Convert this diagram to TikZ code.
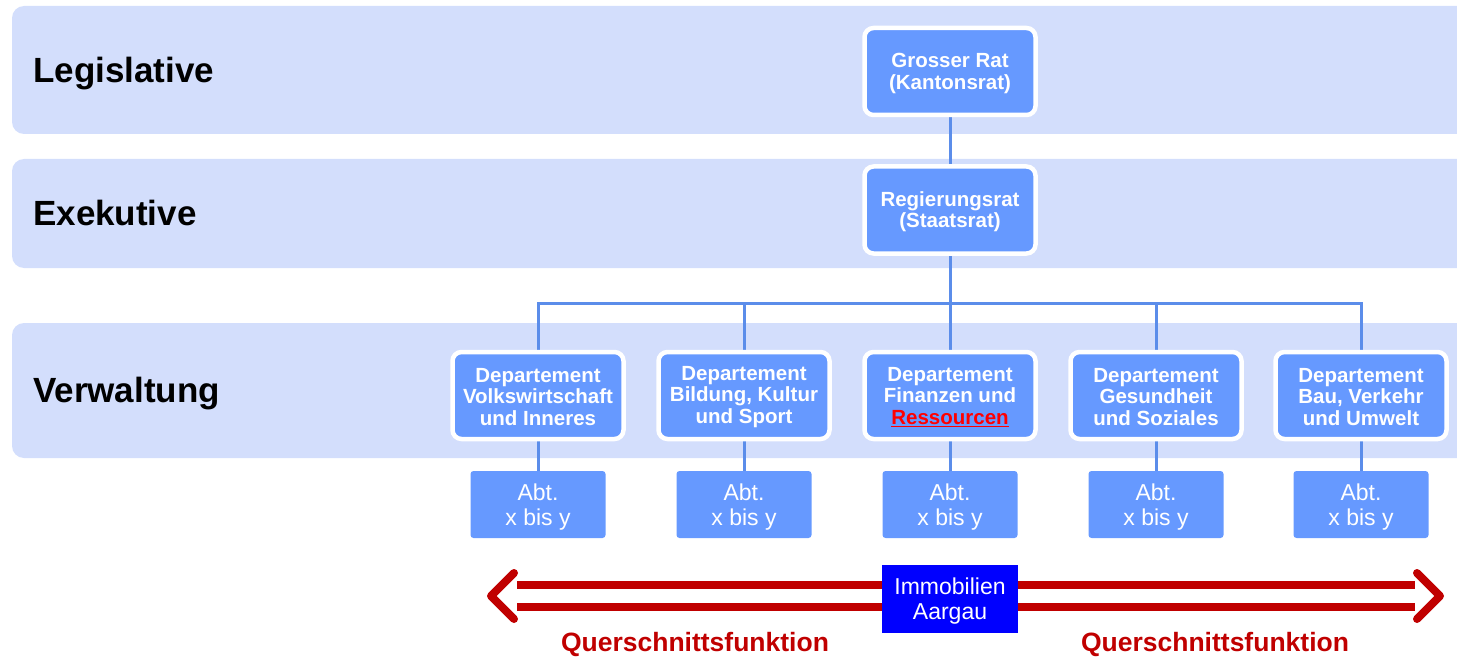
\documentclass[tikz,border=0pt]{standalone}
\usepackage{fontspec}
\setmainfont{Liberation Sans}
\definecolor{band}{HTML}{D3DEFC}
\definecolor{boxblue}{HTML}{6699FF}
\definecolor{linecol}{HTML}{5B8DEA}
\definecolor{darkred}{HTML}{C00000}
\definecolor{immo}{HTML}{0000FF}
\pgfdeclarelayer{bands}
\pgfdeclarelayer{lines}
\pgfsetlayers{bands,lines,main}
\newcommand{\topstrut}[1]{\rule{0pt}{#1}}
\tikzset{
  bandbox/.style={fill=band, draw=none, rounded corners=12pt},
  rowlabel/.style={anchor=base west, font=\bfseries\fontsize{35}{40}\selectfont, text=black, inner sep=0pt},
  orgbox/.style={fill=boxblue, draw=white, line width=4.5pt, rounded corners=9pt,
    minimum width=171pt, minimum height=87pt, align=center, text=white,
    font=\bfseries\fontsize{20.5}{21.5}\selectfont, inner sep=0pt},
  abtbox/.style={fill=boxblue, draw=none, rounded corners=3pt,
    minimum width=135pt, minimum height=67pt, align=center, text=white,
    font=\fontsize{23}{25}\selectfont, inner sep=0pt},
  immobox/.style={fill=immo, draw=none, minimum width=136pt, minimum height=68pt,
    align=center, text=white, font=\fontsize{23}{25}\selectfont, inner sep=0pt},
  conn/.style={draw=linecol, line width=3pt},
  redline/.style={draw=darkred, line width=8pt},
  redtip/.style={draw=darkred, line width=8pt, line cap=round, line join=round},
  quer/.style={text=darkred, font=\bfseries\fontsize{26.5}{30}\selectfont, inner sep=0pt, anchor=base}
}
\begin{document}
\begin{tikzpicture}[x=1pt, y=-1pt]
\useasboundingbox (0,0) rectangle (1457,658);
% bands
\begin{pgfonlayer}{bands}
\path[bandbox] (12,6) rectangle (1480,134);
\path[bandbox] (12,159) rectangle (1480,268);
\path[bandbox] (12,323) rectangle (1480,458);
\end{pgfonlayer}
\node[rowlabel] (leg) at (33,82.5) {Legislative};
\node[rowlabel] (exe) at (33,225.5) {Exekutive};
\node[rowlabel] (ver) at (33,402.5) {Verwaltung};
% boxes
\node[orgbox] (gr) at (950,71.5) {\topstrut{18pt}Grosser Rat\\(Kantonsrat)};
\node[orgbox] (rr) at (950,210) {\topstrut{18pt}Regierungsrat\\(Staatsrat)};
\node[orgbox] (d1) at (538,395.5) {\topstrut{17pt}Departement\\Volkswirtschaft\\und Inneres};
\node[orgbox] (d2) at (744,395.5) {\topstrut{17pt}Departement\\Bildung, Kultur\\und Sport};
\node[orgbox] (d3) at (950,395.5) {\topstrut{17pt}Departement\\Finanzen und\\{\color{red}\underline{Ressourcen}}};
\node[orgbox] (d4) at (1156,395.5) {\topstrut{17pt}Departement\\Gesundheit\\und Soziales};
\node[orgbox] (d5) at (1361,395.5) {\topstrut{17pt}Departement\\Bau, Verkehr\\und Umwelt};
\foreach \i/\x in {1/538,2/744,3/950,4/1156,5/1361}{
  \node[abtbox] (a\i) at (\x,504.5) {\topstrut{22.5pt}Abt.\\x bis y};
}
\coordinate (bar) at (950,303);
\begin{pgfonlayer}{lines}
\draw[conn] (gr.south) -- (rr.north);
\draw[conn] (rr.south) -- (d3.north);
\draw[conn] (d1.north) |- (bar) -| (d5.north);
\draw[conn] (d2.north) -- (d2.north |- bar);
\draw[conn] (d4.north) -- (d4.north |- bar);
\foreach \i in {1,...,5}{
  \draw[conn] (d\i.south) -- (a\i.north);
}
\end{pgfonlayer}
% Immobilien and arrows
\node[immobox] (imm) at (950,599) {\topstrut{21pt}Immobilien\\Aargau};
\coordinate (ltip) at (491,596);
\coordinate (rtip) at (1440,596);
\coordinate (lu) at (517,585);
\coordinate (ll) at (517,607);
\coordinate (ru) at (1415,585);
\coordinate (rl) at (1415,607);
\draw[redline] (imm.west |- lu) -- (lu);
\draw[redline] (imm.west |- ll) -- (ll);
\draw[redtip] (514,573) -- (ltip) -- (514,619);
\draw[redline] (imm.east |- ru) -- (ru);
\draw[redline] (imm.east |- rl) -- (rl);
\draw[redtip] (1417,573) -- (rtip) -- (1417,619);
\node[quer] (q1) at (695,651) {Querschnittsfunktion};
\node[quer] (q2) at (1215,651) {Querschnittsfunktion};
\end{tikzpicture}
\end{document}
